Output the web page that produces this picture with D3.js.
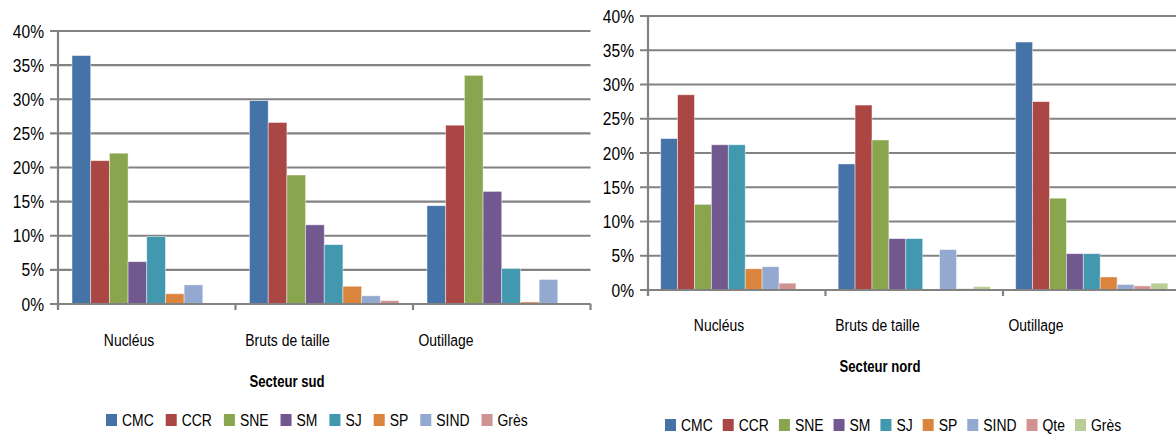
<!DOCTYPE html>
<html>
<head>
<meta charset="utf-8">
<script src="https://cdn.jsdelivr.net/npm/d3@7"></script>
<style>
html,body{margin:0;padding:0;background:#fff;}
svg{display:block;}
text{font-family:"Liberation Sans Narrow","Liberation Sans",Arial,sans-serif;fill:#000;}
</style>
</head>
<body>
<svg id="chart" width="1176" height="434"></svg>
<script>
const categories = ["Nucléus", "Bruts de taille", "Outillage"];
const yTicks = [0, 0.05, 0.10, 0.15, 0.20, 0.25, 0.30, 0.35, 0.40];

const seriesSud = ["CMC", "CCR", "SNE", "SM", "SJ", "SP", "SIND", "Grès"];
const colorsSud = ["#4572A7", "#AA4643", "#89A54E", "#71588F", "#4198AF", "#DB843D", "#93A9CF", "#D19392"];
// values per series: [Nucléus, Bruts de taille, Outillage]
const sudCMC  = [0.364, 0.298, 0.144];
const sudCCR  = [0.210, 0.266, 0.262];
const sudSNE  = [0.221, 0.189, 0.335];
const sudSM   = [0.062, 0.116, 0.165];
const sudSJ   = [0.099, 0.087, 0.052];
const sudSP   = [0.015, 0.026, 0.003];
const sudSIND = [0.028, 0.012, 0.036];
const sudGres = [0.000, 0.005, 0.000];

const seriesNord = ["CMC", "CCR", "SNE", "SM", "SJ", "SP", "SIND", "Qte", "Grès"];
const colorsNord = ["#4572A7", "#AA4643", "#89A54E", "#71588F", "#4198AF", "#DB843D", "#93A9CF", "#D19392", "#B9CD96"];
const nordCMC  = [0.221, 0.184, 0.362];
const nordCCR  = [0.285, 0.270, 0.275];
const nordSNE  = [0.125, 0.219, 0.134];
const nordSM   = [0.212, 0.075, 0.053];
const nordSJ   = [0.212, 0.075, 0.053];
const nordSP   = [0.031, 0.000, 0.019];
const nordSIND = [0.034, 0.059, 0.008];
const nordQte  = [0.010, 0.002, 0.006];
const nordGres = [0.000, 0.005, 0.010];

const sudValues  = [sudCMC, sudCCR, sudSNE, sudSM, sudSJ, sudSP, sudSIND, sudGres];
const nordValues = [nordCMC, nordCCR, nordSNE, nordSM, nordSJ, nordSP, nordSIND, nordQte, nordGres];

const svg = d3.select("#chart");
const GRID = "#828282";
const SX = 0.82; // horizontal condensing of text (narrow face)

function addText(parent, x, y, str, size, anchor, weight) {
  return parent.append("text")
    .attr("transform", `translate(${x},${y}) scale(${SX},1)`)
    .attr("text-anchor", anchor || "start")
    .attr("dominant-baseline", "central")
    .style("font-size", size + "px")
    .style("font-weight", weight || "normal")
    .text(str);
}

function drawChart(cfg) {
  const g = svg.append("g");
  const x = d3.scaleBand().domain(categories).range([cfg.x0, cfg.x1]).padding(0);
  const y = d3.scaleLinear().domain([0, 0.4]).range([cfg.y0, cfg.y1]);
  const xs = d3.scaleBand().domain(cfg.series).range([0, x.bandwidth()]).paddingInner(0).paddingOuter(0.75);

  // gridlines + y ticks
  g.append("g").selectAll("line").data(yTicks).join("line")
    .attr("x1", cfg.x0 - 8).attr("x2", cfg.x1)
    .attr("y1", d => y(d)).attr("y2", d => y(d))
    .attr("stroke", GRID).attr("stroke-width", 2.2);
  const yl = g.append("g");
  yTicks.forEach(d => addText(yl, cfg.x0 - 14, y(d), d3.format(".0%")(d), 19, "end"));

  // bars
  cfg.series.forEach((s, i) => {
    g.append("g").selectAll("rect").data(cfg.values[i]).join("rect")
      .attr("x", (d, j) => x(categories[j]) + xs(s))
      .attr("y", d => y(d))
      .attr("width", xs.bandwidth())
      .attr("height", d => cfg.y0 - y(d))
      .attr("fill", cfg.colors[i])
      .attr("stroke", "rgba(255,255,255,0.55)").attr("stroke-width", 0.8);
  });

  // y axis line
  g.append("line").attr("x1", cfg.x0).attr("x2", cfg.x0)
    .attr("y1", y(0.4) - 1).attr("y2", cfg.y0 + 6)
    .attr("stroke", GRID).attr("stroke-width", 2.2);
  // x axis line and ticks
  g.append("line").attr("x1", cfg.x0 - 8).attr("x2", cfg.x1)
    .attr("y1", cfg.y0).attr("y2", cfg.y0)
    .attr("stroke", GRID).attr("stroke-width", 2.2);
  const bounds = categories.map(c => x(c)).concat([cfg.x1]);
  g.append("g").selectAll("line").data(bounds).join("line")
    .attr("x1", d => d).attr("x2", d => d)
    .attr("y1", cfg.y0).attr("y2", cfg.y0 + 6)
    .attr("stroke", GRID).attr("stroke-width", 2.2);

  // category labels
  const xl = d3.scalePoint().domain(categories).range([cfg.x0 + 71, cfg.x0 + 388]);
  const cl = g.append("g");
  categories.forEach(c => addText(cl, xl(c), cfg.labelY, c, 17, "middle"));

  // title
  addText(g, cfg.titleX, cfg.titleY, cfg.title, 16, "middle", "bold");

  // legend
  const lg = g.append("g");
  let lx = cfg.legendX;
  cfg.series.forEach((s, i) => {
    lg.append("rect").attr("x", lx).attr("y", cfg.legendY - 6)
      .attr("width", 11).attr("height", 12).attr("fill", cfg.colors[i]);
    const t = addText(lg, lx + 16, cfg.legendY, s, 17, "start");
    lx += 16 + t.node().getComputedTextLength() * SX + cfg.legendGap;
  });
}

drawChart({
  x0: 58, x1: 590.5, y0: 304, y1: 31,
  series: seriesSud, colors: colorsSud, values: sudValues,
  labelY: 340, title: "Secteur sud", titleX: 287, titleY: 382,
  legendX: 106, legendY: 420, legendGap: 12
});
drawChart({
  x0: 648, x1: 1180.5, y0: 290, y1: 16,
  series: seriesNord, colors: colorsNord, values: nordValues,
  labelY: 325, title: "Secteur nord", titleX: 880, titleY: 367,
  legendX: 665, legendY: 425, legendGap: 10
});
</script>
</body>
</html>
